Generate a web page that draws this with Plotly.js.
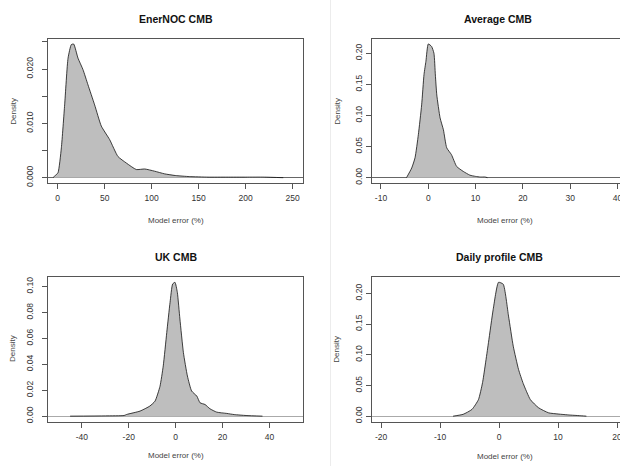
<!DOCTYPE html>
<html>
<head>
<meta charset="utf-8">
<script src="https://cdn.plot.ly/plotly-3.0.1.min.js"></script>
<style>
html,body{margin:0;padding:0;background:#fff;overflow:hidden;}
#chart{width:620px;height:466px;}
</style>
</head>
<body>
<div id="chart"></div>
<script>
// ---- data ----
var panelTitles = ["EnerNOC CMB", "Average CMB", "UK CMB", "Daily profile CMB"];
var xTitle = "Model error (%)";
var yTitle = "Density";

var enerX = [-5, -3.2, 0.3, 3.9, 7.4, 11, 14.5, 17, 21.6, 26.9, 32.2, 39.3, 46.4, 55.3, 64.1, 73, 83.6, 92.6, 103, 113.8, 125, 140, 160, 180, 200, 220, 240];
var enerY = [0, 0.0003, 0.0009, 0.0055, 0.0134, 0.022, 0.0245, 0.0246, 0.022, 0.0199, 0.0171, 0.0134, 0.0095, 0.007, 0.0039, 0.0027, 0.0015, 0.0016, 0.0012, 0.0007, 0.0004, 0.0002, 0.0001, 0.0001, 0.0001, 0.0001, 0];

var avgX = [-4.6, -3.5, -2.8, -2.1, -1.4, -0.9, -0.5, 0, 0.7, 1.2, 1.5, 1.8, 2.5, 3.2, 3.9, 4.9, 6, 7.4, 8.8, 10, 11, 12, 12.5];
var avgY = [0, 0.0156, 0.032, 0.069, 0.117, 0.166, 0.187, 0.215, 0.211, 0.2, 0.165, 0.133, 0.096, 0.077, 0.048, 0.037, 0.018, 0.010, 0.004, 0.002, 0.001, 0.001, 0];

var ukX = [-45, -30, -22, -20.9, -15.2, -11, -8.8, -6.7, -5.3, -3.8, -2.4, -1.3, -0.3, 0.7, 1.8, 3.3, 5, 6.8, 9, 10.4, 12.5, 14.6, 17.5, 21.8, 25, 30, 37];
var ukY = [0, 0.0002, 0.0005, 0.0013, 0.0039, 0.0078, 0.0116, 0.023, 0.0388, 0.0646, 0.0878, 0.102, 0.1033, 0.0956, 0.075, 0.049, 0.031, 0.0194, 0.0155, 0.0103, 0.009, 0.0057, 0.0031, 0.0021, 0.0012, 0.0005, 0];

var dayX = [-7.8, -6.1, -4.6, -3.5, -2.8, -1.8, -1.0, -0.1, 0.7, 1.6, 2.4, 3.3, 4.1, 5.3, 6.7, 8.4, 10, 12, 14, 14.8];
var dayY = [0, 0.003, 0.011, 0.027, 0.055, 0.12, 0.174, 0.218, 0.215, 0.163, 0.114, 0.076, 0.053, 0.027, 0.0136, 0.0054, 0.0035, 0.0018, 0.0006, 0];

// tick labels
var enerXTicks = [0, 50, 100, 150, 200, 250];
var enerXText = ["0", "50", "100", "150", "200", "250"];
var enerYTicks = [0, 0.005, 0.010, 0.015, 0.020, 0.025];
var enerYText = ["0.000", "", "0.010", "", "0.020", ""];
var avgXTicks = [-10, 0, 10, 20, 30, 40];
var avgXText = ["-10", "0", "10", "20", "30", "40"];
var avgYTicks = [0, 0.05, 0.10, 0.15, 0.20];
var avgYText = ["0.00", "0.05", "0.10", "0.15", "0.20"];
var ukXTicks = [-40, -20, 0, 20, 40];
var ukXText = ["-40", "-20", "0", "20", "40"];
var ukYTicks = [0, 0.02, 0.04, 0.06, 0.08, 0.10];
var ukYText = ["0.00", "0.02", "0.04", "0.06", "0.08", "0.10"];
var dayXTicks = [-20, -10, 0, 10, 20];
var dayXText = ["-20", "-10", "0", "10", "20"];
var dayYTicks = [0, 0.05, 0.10, 0.15, 0.20];
var dayYText = ["0.00", "0.05", "0.10", "0.15", "0.20"];

// ---- layout helpers ----
var W = 620, H = 466;
function px(x) { return x / W; }
function py(y) { return (H - y) / H; }
var FONT = "Liberation Sans, Arial, sans-serif";
var tickFont = {family: FONT, size: 8.5, color: "#333"};

function xax(dom, range, tv, tt, anchor) {
  return {domain: dom, range: range, anchor: anchor, tickmode: "array", tickvals: tv, ticktext: tt,
    ticks: "outside", ticklen: 5, tickwidth: 1, tickcolor: "#555", showgrid: false, zeroline: false,
    showline: true, linecolor: "#555", linewidth: 1, mirror: true, tickfont: tickFont, ticklabelstandoff: 2,
    ticklabeloverflow: "allow", fixedrange: true};
}
function yax(dom, range, tv, tt, anchor, mirror, zc, zw, so) {
  return {domain: dom, range: range, anchor: anchor, tickmode: "array", tickvals: tv, ticktext: tt, tickangle: -90,
    ticks: "outside", ticklen: 5, tickwidth: 1, tickcolor: "#555", showgrid: false,
    zeroline: true, zerolinecolor: zc, zerolinewidth: zw,
    showline: true, linecolor: "#555", linewidth: 1, mirror: mirror, tickfont: tickFont, ticklabelstandoff: so,
    ticklabeloverflow: "allow", fixedrange: true};
}
function trace(x, y, xa, ya) {
  return {x: x, y: y, xaxis: xa, yaxis: ya, type: "scatter", mode: "lines", fill: "tozeroy",
    fillcolor: "#bebebe", line: {color: "#111", width: 0.8, shape: "spline", smoothing: 0.5}, hoverinfo: "skip"};
}

var data = [
  trace(enerX, enerY, "x", "y"),
  trace(avgX, avgY, "x2", "y2"),
  trace(ukX, ukY, "x3", "y3"),
  trace(dayX, dayY, "x4", "y4")
];

var topDom = [py(183), py(38.6)];
var botDom = [py(421.5), py(277)];
var leftDom = [px(48.3), px(303.3)];
var rightDom = [px(371.7), 1];

function ann(text, x, y, opts) {
  var a = {text: text, x: px(x), y: py(y), xref: "paper", yref: "paper", showarrow: false,
    xanchor: "center", yanchor: "middle", font: {family: FONT, size: 8, color: "#444"}};
  for (var k in opts) a[k] = opts[k];
  return a;
}
var titleFont = {family: FONT, size: 10.5, color: "#111"};

var layout = {
  width: W, height: H, margin: {l: 0, r: 0, t: 0, b: 0}, showlegend: false,
  paper_bgcolor: "#fff", plot_bgcolor: "#fff",
  xaxis: xax(leftDom, [-10.0, 261.3], enerXTicks, enerXText, "y"),
  yaxis: yax(topDom, [-0.00098, 0.0256], enerYTicks, enerYText, "x", true, "#666", 1.6, 6),
  xaxis2: xax(rightDom, [-11.96, 40.53], avgXTicks, avgXText, "y2"),
  yaxis2: yax(topDom, [-0.0086, 0.2236], avgYTicks, avgYText, "x2", false, "#666", 1.6, 3.5),
  xaxis3: xax(leftDom, [-54.3, 54.4], ukXTicks, ukXText, "y3"),
  yaxis3: yax(botDom, [-0.00413, 0.1074], ukYTicks, ukYText, "x3", true, "#aaa", 1.2, 6),
  xaxis4: xax(rightDom, [-21.6, 20.5], dayXTicks, dayXText, "y4"),
  yaxis4: yax(botDom, [-0.0087, 0.2267], dayYTicks, dayYText, "x4", false, "#aaa", 1.2, 3.5),
  shapes: [
    {type: "line", xref: "paper", yref: "paper", x0: px(330.5), x1: px(330.5), y0: 0, y1: 1,
     line: {color: "#ececec", width: 1}}
  ],
  annotations: [
    ann(panelTitles[0], 175.5, 19, {font: titleFont, text: "<b>" + panelTitles[0] + "</b>"}),
    ann(panelTitles[1], 498, 19, {font: titleFont, text: "<b>" + panelTitles[1] + "</b>"}),
    ann(panelTitles[2], 175.5, 257, {font: titleFont, text: "<b>" + panelTitles[2] + "</b>"}),
    ann(panelTitles[3], 499, 257, {font: titleFont, text: "<b>" + panelTitles[3] + "</b>"}),
    ann(xTitle, 175.5, 220, {}),
    ann(xTitle, 505, 220, {}),
    ann(xTitle, 175.5, 455, {}),
    ann(xTitle, 505, 456, {}),
    ann(yTitle, 12.7, 111, {textangle: -90}),
    ann(yTitle, 336.7, 111, {textangle: -90}),
    ann(yTitle, 13, 349, {textangle: -90}),
    ann(yTitle, 336.7, 349, {textangle: -90})
  ]
};

Plotly.newPlot("chart", data, layout, {staticPlot: true, displayModeBar: false});
</script>
</body>
</html>
